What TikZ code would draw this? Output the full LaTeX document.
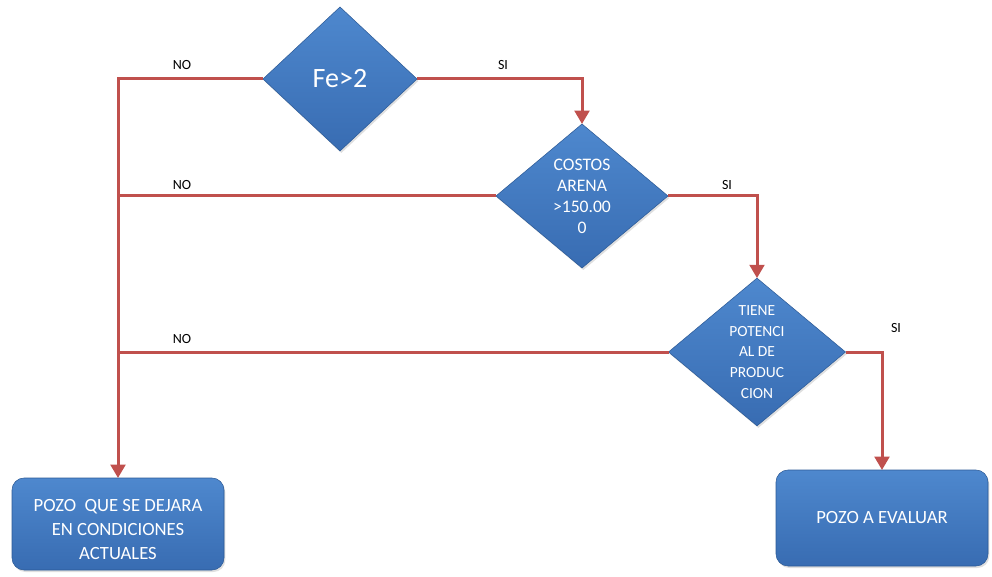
\documentclass[tikz,border=0pt]{standalone}
\usepackage{fontspec}
\setmainfont{Carlito}
\usetikzlibrary{shapes.geometric,arrows.meta,shadows}
\definecolor{rojo}{RGB}{192,80,77}
\definecolor{azulA}{RGB}{78,136,206}
\definecolor{azulB}{RGB}{56,108,178}
\definecolor{azulC}{RGB}{44,90,150}
\begin{document}
\begin{tikzpicture}[x=0.75pt,y=-0.75pt,
  decision/.style={diamond,aspect=1,inner sep=0pt,outer sep=0pt,draw=azulC,line width=0.4pt,
    top color=azulA,bottom color=azulB,text=white,align=center,
    drop shadow={opacity=0.25,shadow xshift=1pt,shadow yshift=-1.5pt}},
  caja/.style={rectangle,rounded corners=9pt,inner sep=0pt,outer sep=0pt,draw=azulC,line width=0.4pt,
    top color=azulA,bottom color=azulB,text=white,align=center,
    minimum width=159pt,font=\fontsize{14}{18}\selectfont,
    drop shadow={opacity=0.25,shadow xshift=1pt,shadow yshift=-1.5pt}},
  flujo/.style={draw=rojo,line width=2.25pt},
  punta/.style={-{Triangle[width=11pt,length=10pt]}},
  etiq/.style={font=\fontsize{10.5}{12}\selectfont}]

\useasboundingbox (0,0) rectangle (992,577);

% decisiones
\node[decision,minimum width=115.5pt,minimum height=108pt,font=\fontsize{21}{24}\selectfont] (fe) at (340,79) {Fe>2};
\node[decision,minimum width=129pt,minimum height=108pt,font=\fontsize{13.2}{15.75}\selectfont] (costos) at (582,196)
  {COSTOS\\ARENA\\>150.00\\0};
\node[decision,minimum width=132.75pt,minimum height=105.75pt,font=\fontsize{11.6}{15.5}\selectfont] (potencial) at (757,352)
  {TIENE\\POTENCI\\AL DE\\PRODUC\\CION};

% resultados
\node[caja,minimum height=69pt] (dejar) at (118,524) {\rule{0pt}{18pt}POZO~ QUE SE DEJARA\\EN CONDICIONES\\ACTUALES};
\node[caja,minimum height=72pt] (evaluar) at (882,518) {POZO A EVALUAR};

% NO
\draw[flujo,punta] (fe.west) -| (dejar.north);
\draw[flujo] (costos.west) -- (costos.west -| dejar.north);
\draw[flujo] (potencial.west) -- (potencial.west -| dejar.north);

% SI
\draw[flujo,punta] (fe.east) -| (costos.north);
\draw[flujo,punta] (costos.east) -| (potencial.north);
\draw[flujo,punta] (potencial.east) -| (evaluar.north);

\node[etiq] (no1) at (182,65) {NO};
\node[etiq] (no2) at (182,185) {NO};
\node[etiq] (no3) at (182,339) {NO};
\node[etiq] (si1) at (503,65) {SI};
\node[etiq] (si2) at (727,185) {SI};
\node[etiq] (si3) at (896,328) {SI};
\end{tikzpicture}
\end{document}
